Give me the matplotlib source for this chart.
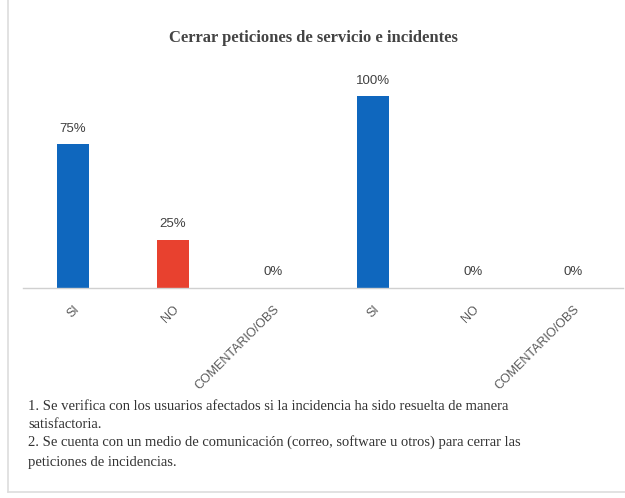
import matplotlib.pyplot as plt
from matplotlib.lines import Line2D

categorias = ["SI", "NO", "COMENTARIO/OBS", "SI", "NO", "COMENTARIO/OBS"]
valores = [75, 25, 0, 100, 0, 0]
colores = ["#0F67BE", "#E8412F", "#0F67BE", "#0F67BE", "#0F67BE", "#0F67BE"]

titulo = "Cerrar peticiones de servicio e incidentes"
notas = [
    "1. Se verifica con los usuarios afectados si la incidencia ha sido resuelta de manera",
    "satisfactoria.",
    "2. Se cuenta con un medio de comunicación (correo, software u otros) para cerrar las",
    "peticiones de incidencias.",
]

W, H = 625, 498
fig = plt.figure(figsize=(W / 100, H / 100), dpi=100)
fig.patch.set_facecolor("white")

# axes in pixel terms: baseline at y=288, x from 23 to 623
ax = fig.add_axes([23 / W, 1 - 288 / H, 600 / W, 230 / H])
x = list(range(len(categorias)))
ax.bar(x, valores, width=0.32, color=colores, zorder=2)
ax.set_xlim(-0.5, 5.5)
ax.set_ylim(0, 120)

for xi, v in zip(x, valores):
    ax.annotate(f"{v}%", (xi, v), xytext=(0, 7), textcoords="offset points",
                ha="center", va="bottom", fontsize=9.5, color="#404040",
                family="Liberation Sans")

ax.set_xticks(x)
ax.set_xticklabels(categorias, rotation=45, ha="right", rotation_mode="anchor",
                   fontsize=9, color="#595959", family="Liberation Sans")
ax.tick_params(axis="x", length=0, pad=11)
ax.set_yticks([])
for s in ["top", "right", "left"]:
    ax.spines[s].set_visible(False)
ax.spines["bottom"].set_color("#D0D0D0")
ax.spines["bottom"].set_linewidth(1)
ax.set_facecolor("none")

fig.text(313 / W, 1 - 38 / H, titulo, ha="center", va="center", fontsize=12,
         fontweight="bold", color="#444444", family="Liberation Serif")

ys = [407, 424, 442, 462]
for linea, yp in zip(notas, ys):
    fig.text(28 / W, 1 - yp / H, linea, ha="left", va="center", fontsize=10.5,
             color="#333333", family="Liberation Serif")

# outer frame
fig.add_artist(Line2D([8 / W, 8 / W], [1 - 492 / H, 1], color="#DDDDDD", lw=1.2))
fig.add_artist(Line2D([8 / W, 1], [1 - 492 / H, 1 - 492 / H], color="#DDDDDD", lw=1.2))

fig.savefig("out.png", dpi=100)
